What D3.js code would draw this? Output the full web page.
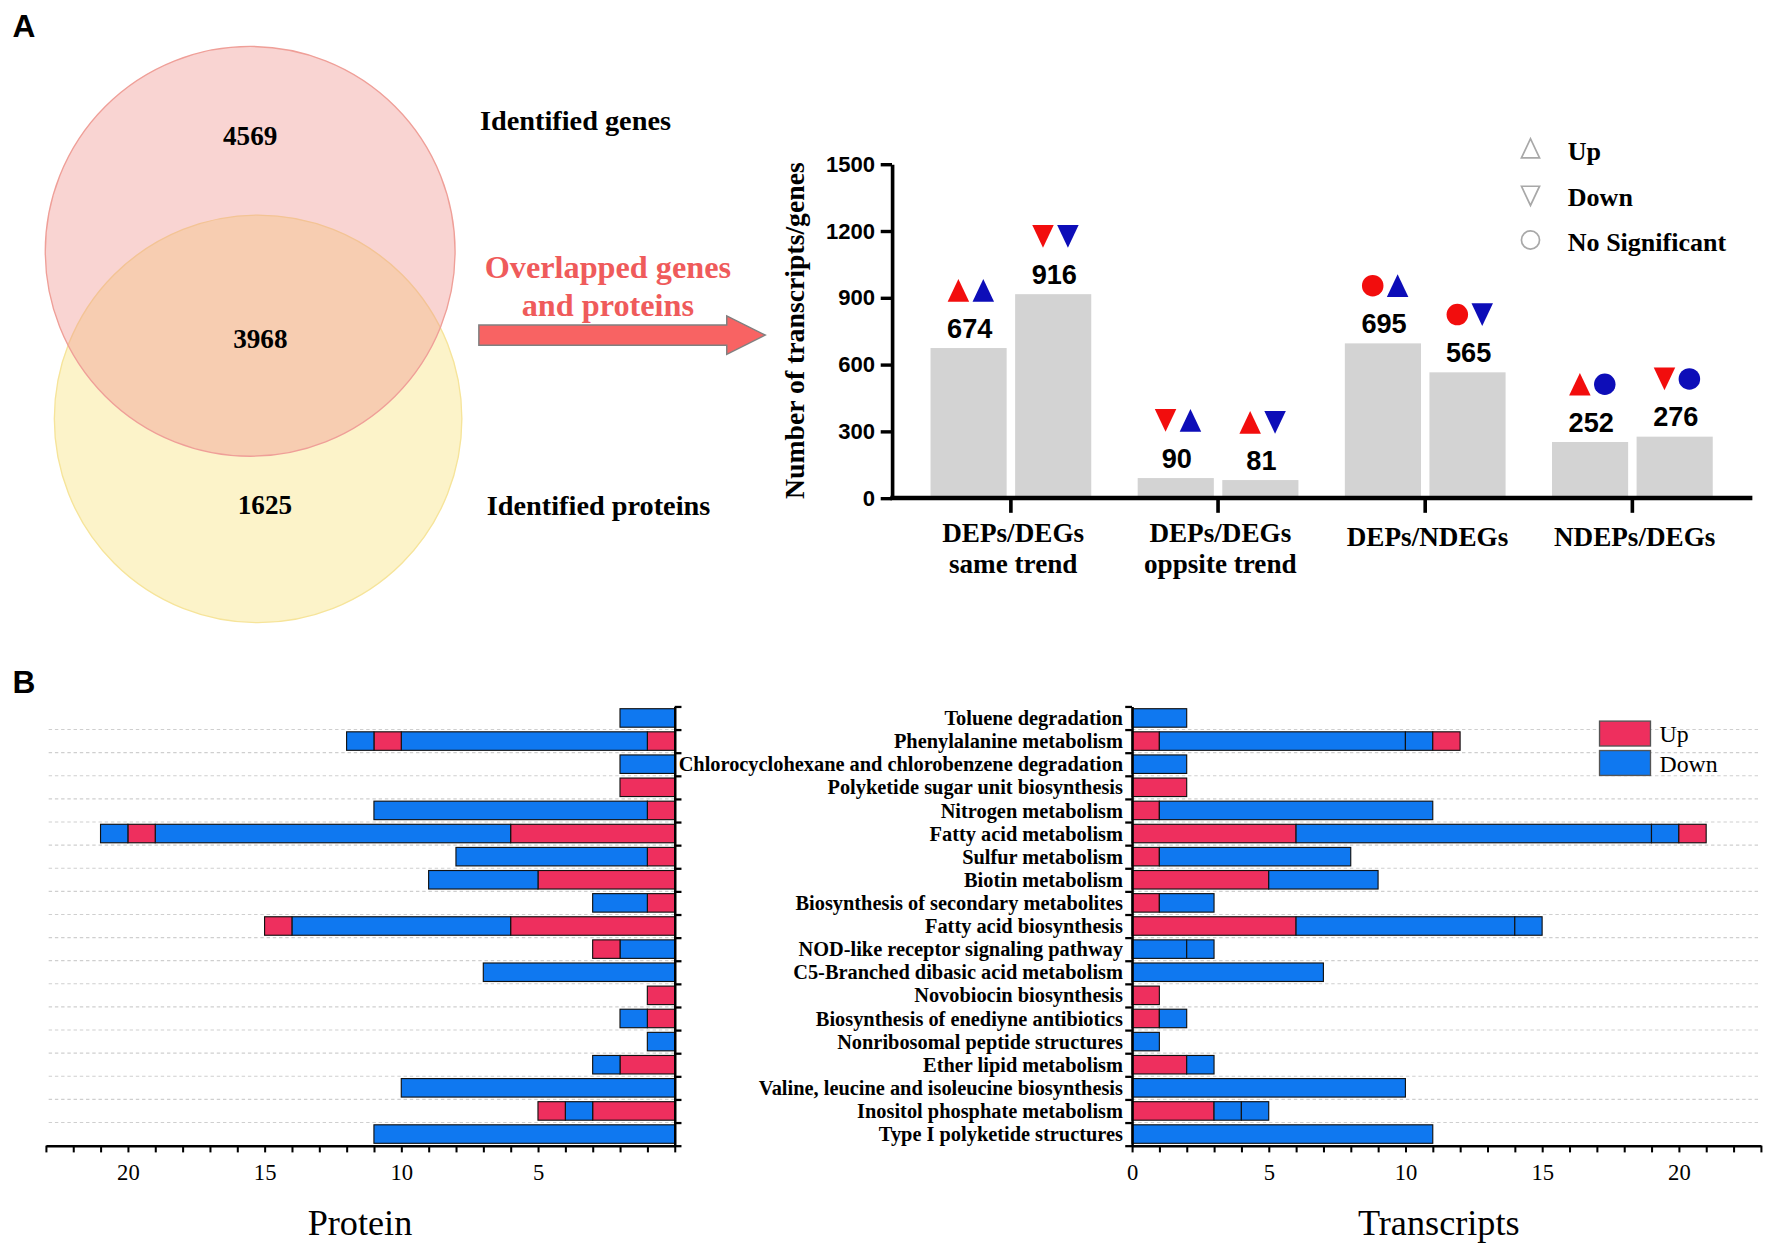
<!DOCTYPE html>
<html><head><meta charset="utf-8">
<script src="https://cdn.jsdelivr.net/npm/d3@7"></script>
<style>html,body{margin:0;padding:0;background:#fff;} svg{display:block}</style>
</head><body>
<svg id="c" width="1775" height="1250" viewBox="0 0 1568 1104.2"></svg>
<script>
// ---------------- DATA ----------------
const vennLabels = ["Identified genes", "Identified proteins"];
const vennCounts = [4569, 3968, 1625];           // genes only, overlap, proteins only
const overlapText = ["Overlapped genes", "and proteins"];

const trendCategories = [["DEPs/DEGs", "same trend"], ["DEPs/DEGs", "oppsite trend"], ["DEPs/NDEGs"], ["NDEPs/DEGs"]];
const trendValues = [[674, 916], [90, 81], [695, 565], [252, 276]];
const proteinSymbols = [["up", "down"], ["down", "up"], ["ns", "ns"], ["up", "down"]];     // red markers
const transcriptSymbols = [["up", "down"], ["up", "down"], ["up", "down"], ["ns", "ns"]];  // blue markers
const trendTicks = [0, 300, 600, 900, 1200, 1500];
const symbolLegend = [["up", "Up"], ["down", "Down"], ["ns", "No Significant"]];

const pathways = ["Toluene degradation", "Phenylalanine metabolism", "Chlorocyclohexane and chlorobenzene degradation",
  "Polyketide sugar unit biosynthesis", "Nitrogen metabolism", "Fatty acid metabolism", "Sulfur metabolism",
  "Biotin metabolism", "Biosynthesis of secondary metabolites", "Fatty acid biosynthesis",
  "NOD-like receptor signaling pathway", "C5-Branched dibasic acid metabolism", "Novobiocin biosynthesis",
  "Biosynthesis of enediyne antibiotics", "Nonribosomal peptide structures", "Ether lipid metabolism",
  "Valine, leucine and isoleucine biosynthesis", "Inositol phosphate metabolism", "Type I polyketide structures"];

// stacked segments per pathway: [direction, count]
const proteinSegments = [
  [["D", 2]],
  [["U", 1], ["D", 9], ["U", 1], ["D", 1]],
  [["D", 2]],
  [["U", 2]],
  [["U", 1], ["D", 10]],
  [["U", 6], ["D", 13], ["U", 1], ["D", 1]],
  [["U", 1], ["D", 7]],
  [["U", 5], ["D", 4]],
  [["U", 1], ["D", 2]],
  [["U", 6], ["D", 8], ["U", 1]],
  [["D", 2], ["U", 1]],
  [["D", 7]],
  [["U", 1]],
  [["U", 1], ["D", 1]],
  [["D", 1]],
  [["U", 2], ["D", 1]],
  [["D", 10]],
  [["U", 3], ["D", 1], ["U", 1]],
  [["D", 11]]
];
const transcriptSegments = [
  [["D", 2]],
  [["U", 1], ["D", 9], ["D", 1], ["U", 1]],
  [["D", 2]],
  [["U", 2]],
  [["U", 1], ["D", 10]],
  [["U", 6], ["D", 13], ["D", 1], ["U", 1]],
  [["U", 1], ["D", 7]],
  [["U", 5], ["D", 4]],
  [["U", 1], ["D", 2]],
  [["U", 6], ["D", 8], ["D", 1]],
  [["D", 2], ["D", 1]],
  [["D", 7]],
  [["U", 1]],
  [["U", 1], ["D", 1]],
  [["D", 1]],
  [["U", 2], ["D", 1]],
  [["D", 10]],
  [["U", 3], ["D", 1], ["D", 1]],
  [["D", 11]]
];
const countTicks = d3.range(0, 24);
const barLegend = [["U", "Up"], ["D", "Down"]];

// ---------------- STYLE ----------------
const SERIF = "'Liberation Serif','Times New Roman',serif";
const SANS = "'Liberation Sans',Arial,sans-serif";
const segColor = {U: "#ee2f5e", D: "#0f78f0"};
const RED = "#f20d0d", BLUE = "#0d0db8";

const svg = d3.select("#c");

// panel letters
svg.append("text").attr("x", 11).attr("y", 33).text("A")
  .attr("font-family", SANS).attr("font-weight", "bold").attr("font-size", 28);
svg.append("text").attr("x", 11).attr("y", 612).text("B")
  .attr("font-family", SANS).attr("font-weight", "bold").attr("font-size", 28);

// ---------------- VENN ----------------
const venn = svg.append("g");
venn.append("circle").attr("cx", 228).attr("cy", 370).attr("r", 180)
  .attr("fill", "#fcf3c9").attr("stroke", "#f6e49a").attr("stroke-width", 1.2);
venn.append("circle").attr("cx", 221).attr("cy", 222).attr("r", 181)
  .attr("fill", "rgb(240,148,142)").attr("fill-opacity", 0.4)
  .attr("stroke", "#ef9f98").attr("stroke-width", 1.2);
const vennPos = [[221, 120], [230, 299], [234, 446]];
venn.selectAll("text.cnt").data(vennCounts).join("text")
  .attr("x", (d, i) => vennPos[i][0]).attr("y", (d, i) => vennPos[i][1]).attr("dy", "0.35em")
  .attr("text-anchor", "middle").attr("font-family", SERIF).attr("font-weight", "bold").attr("font-size", 24)
  .text(d => d);
venn.selectAll("text.lab").data(vennLabels).join("text")
  .attr("x", (d, i) => i === 0 ? 424 : 430).attr("y", (d, i) => i === 0 ? 106 : 446).attr("dy", "0.35em")
  .attr("font-family", SERIF).attr("font-weight", "bold").attr("font-size", 25)
  .text(d => d);
venn.selectAll("text.ov").data(overlapText).join("text")
  .attr("x", 537).attr("y", (d, i) => 236 + i * 33).attr("dy", "0.35em")
  .attr("text-anchor", "middle").attr("fill", "#ef5b5b")
  .attr("font-family", SERIF).attr("font-weight", "bold").attr("font-size", 28.5)
  .text(d => d);
venn.append("path")
  .attr("d", "M423,287 L642,287 L642,279 L676,296 L642,313 L642,305 L423,305 Z")
  .attr("fill", "#f86363").attr("stroke", "#808080").attr("stroke-width", 1.3);

// ---------------- TREND BAR CHART ----------------
const tg = svg.append("g");
const yT = d3.scaleLinear().domain([0, 1500]).range([440, 145]);
const xT = d3.scaleBand().domain(d3.range(trendCategories.length)).range([801.5, 1533.5]).padding(0);
const xT1 = d3.scaleBand().domain([0, 1]).range([20.5, 162.5]).paddingInner(0.1);

function symPath(type, cx, cy, w, h) {
  if (type === "up") return `M${cx - w / 2},${cy + h / 2} L${cx},${cy - h / 2} L${cx + w / 2},${cy + h / 2} Z`;
  if (type === "down") return `M${cx - w / 2},${cy - h / 2} L${cx},${cy + h / 2} L${cx + w / 2},${cy - h / 2} Z`;
  const r = w / 2;
  return `M${cx - r},${cy} a${r},${r} 0 1,0 ${2 * r},0 a${r},${r} 0 1,0 ${-2 * r},0 Z`;
}

const bars = [];
trendValues.forEach((pair, gi) => pair.forEach((v, bi) => bars.push({gi, bi, v,
  ps: proteinSymbols[gi][bi], ts: transcriptSymbols[gi][bi]})));

tg.selectAll("rect.tb").data(bars).join("rect")
  .attr("x", d => xT(d.gi) + xT1(d.bi)).attr("width", xT1.bandwidth())
  .attr("y", d => yT(d.v)).attr("height", d => yT(0) - yT(d.v))
  .attr("fill", "#d3d3d3");
tg.selectAll("text.tv").data(bars).join("text")
  .attr("x", d => xT(d.gi) + xT1(d.bi) + xT1.bandwidth() / 2 + 1).attr("y", d => yT(d.v) - 9)
  .attr("text-anchor", "middle").attr("font-family", SANS).attr("font-weight", "bold").attr("font-size", 24)
  .text(d => d.v);
tg.selectAll("path.ps").data(bars).join("path")
  .attr("d", d => symPath(d.ps, xT(d.gi) + xT1(d.bi) + xT1.bandwidth() / 2 - 9, yT(d.v) - 51, 19, 20))
  .attr("fill", RED);
tg.selectAll("path.ts").data(bars).join("path")
  .attr("d", d => symPath(d.ts, xT(d.gi) + xT1(d.bi) + xT1.bandwidth() / 2 + 13, yT(d.v) - 51, 19, 20))
  .attr("fill", BLUE);

// axes
const yAx = tg.append("g").attr("transform", "translate(788,0)")
  .call(d3.axisLeft(yT).tickValues(trendTicks).tickFormat(d3.format("d")).tickSize(10).tickPadding(5).tickSizeOuter(0));
yAx.select(".domain").attr("stroke-width", 3.2);
yAx.selectAll(".tick line").attr("stroke-width", 3);
yAx.selectAll(".tick text").attr("font-family", SANS).attr("font-weight", "bold").attr("font-size", 19.5).attr("fill", "#000");

const xAx = tg.append("g").attr("transform", "translate(0,440)")
  .call(d3.axisBottom(xT).tickSize(13).tickFormat(""));
xAx.select(".domain").remove();
xAx.selectAll(".tick line").attr("stroke-width", 3.2);
tg.append("line").attr("x1", 786.5).attr("x2", 1548).attr("y1", 440).attr("y2", 440)
  .attr("stroke", "#000").attr("stroke-width", 4);

tg.selectAll("text.cat").data(trendCategories).join("text")
  .attr("text-anchor", "middle").attr("font-family", SERIF).attr("font-weight", "bold").attr("font-size", 24)
  .attr("transform", (d, i) => `translate(${xT(i) + xT.bandwidth() / 2 + 2},${d.length > 1 ? 479 : 482})`)
  .selectAll("tspan").data(d => d).join("tspan")
  .attr("x", 0).attr("y", (d, i) => i * 27).text(d => d);

tg.append("text").attr("transform", "translate(702,292) rotate(-90)")
  .attr("text-anchor", "middle").attr("dy", "0.35em")
  .attr("font-family", SERIF).attr("font-weight", "bold").attr("font-size", 24.5)
  .text("Number of transcripts/genes");

// symbol legend
const lg = tg.append("g");
lg.selectAll("path").data(symbolLegend).join("path")
  .attr("d", (d, i) => symPath(d[0], 1352, [131, 173, 212][i], 16, 17))
  .attr("fill", "none").attr("stroke", "#a8a8a8").attr("stroke-width", 1.5);
lg.selectAll("text").data(symbolLegend).join("text")
  .attr("x", 1385).attr("y", (d, i) => [133, 174, 214][i]).attr("dy", "0.35em")
  .attr("font-family", SERIF).attr("font-weight", "bold").attr("font-size", 23)
  .text(d => d[1]);

// ---------------- PATHWAY STACKED BARS ----------------
const yB = d3.scaleBand().domain(d3.range(pathways.length)).range([624, 1012]).paddingInner(0.2).paddingOuter(0.1);
const yBound = d3.scaleLinear().domain([0, pathways.length]).range([624, 1012]);
const xL = d3.scaleLinear().domain([0, 23]).range([596, 40.5]);
const xR = d3.scaleLinear().domain([0, 23]).range([1000, 1555.5]);

function stackRows(segs) {
  const out = [];
  segs.forEach((row, ri) => {
    const ends = d3.cumsum(row.map(s => s[1]));
    row.forEach((s, si) => out.push({row: ri, dir: s[0], x0: ends[si] - s[1], x1: ends[si]}));
  });
  return out;
}

function drawPanel(segs, x, axisX, side) {
  const g = svg.append("g");
  // gridlines
  g.selectAll("line.grid").data(d3.range(1, pathways.length)).join("line")
    .attr("x1", x.range()[0]).attr("x2", x.range()[1])
    .attr("y1", d => yBound(d)).attr("y2", d => yBound(d))
    .attr("stroke", "#cfcfcf").attr("stroke-width", 1).attr("stroke-dasharray", "3,2.5");
  // bars
  g.selectAll("rect").data(stackRows(segs)).join("rect")
    .attr("x", d => Math.min(x(d.x0), x(d.x1))).attr("width", d => Math.abs(x(d.x1) - x(d.x0)))
    .attr("y", d => yB(d.row)).attr("height", yB.bandwidth())
    .attr("fill", d => segColor[d.dir]).attr("stroke", "#111").attr("stroke-width", 1);
  // vertical axis
  const va = g.append("g").attr("transform", `translate(${axisX},0)`)
    .call((side === "left" ? d3.axisRight(yBound) : d3.axisLeft(yBound))
      .tickValues(d3.range(0, pathways.length + 1)).tickFormat("").tickSize(6).tickSizeOuter(0));
  va.select(".domain").attr("stroke-width", 2.2);
  va.selectAll(".tick line").attr("stroke-width", 2);
  // bottom axis
  const ba = g.append("g").attr("transform", "translate(0,1012)")
    .call(d3.axisBottom(x).tickValues(countTicks).tickSize(6).tickPadding(10).tickSizeOuter(0)
      .tickFormat(d => d % 5 === 0 && (side === "right" || d > 0) ? d : ""));
  ba.select(".domain").attr("stroke-width", 2.2);
  ba.selectAll(".tick line").attr("stroke-width", 1.8);
  ba.selectAll(".tick text").attr("font-family", SERIF).attr("font-size", 20).attr("fill", "#000");
  return g;
}

drawPanel(proteinSegments, xL, 596, "left");
const gR = drawPanel(transcriptSegments, xR, 1000, "right");

gR.selectAll("text.pw").data(pathways).join("text")
  .attr("x", 992).attr("y", (d, i) => yB(i) + yB.bandwidth() / 2).attr("dy", "0.35em")
  .attr("text-anchor", "end").attr("font-family", SERIF).attr("font-weight", "bold").attr("font-size", 18)
  .text(d => d);

svg.append("text").attr("x", 318).attr("y", 1091).attr("text-anchor", "middle")
  .attr("font-family", SERIF).attr("font-size", 32).text("Protein");
svg.append("text").attr("x", 1271).attr("y", 1091).attr("text-anchor", "middle")
  .attr("font-family", SERIF).attr("font-size", 32).text("Transcripts");

// bar legend
const bl = svg.append("g");
bl.selectAll("rect").data(barLegend).join("rect")
  .attr("x", 1413).attr("y", (d, i) => 637 + i * 26).attr("width", 45).attr("height", 22)
  .attr("fill", d => segColor[d[0]]).attr("stroke", "#555").attr("stroke-width", 1.2);
bl.selectAll("text").data(barLegend).join("text")
  .attr("x", 1466).attr("y", (d, i) => 648 + i * 27).attr("dy", "0.35em")
  .attr("font-family", SERIF).attr("font-size", 21).text(d => d[1]);
</script>
</body></html>
